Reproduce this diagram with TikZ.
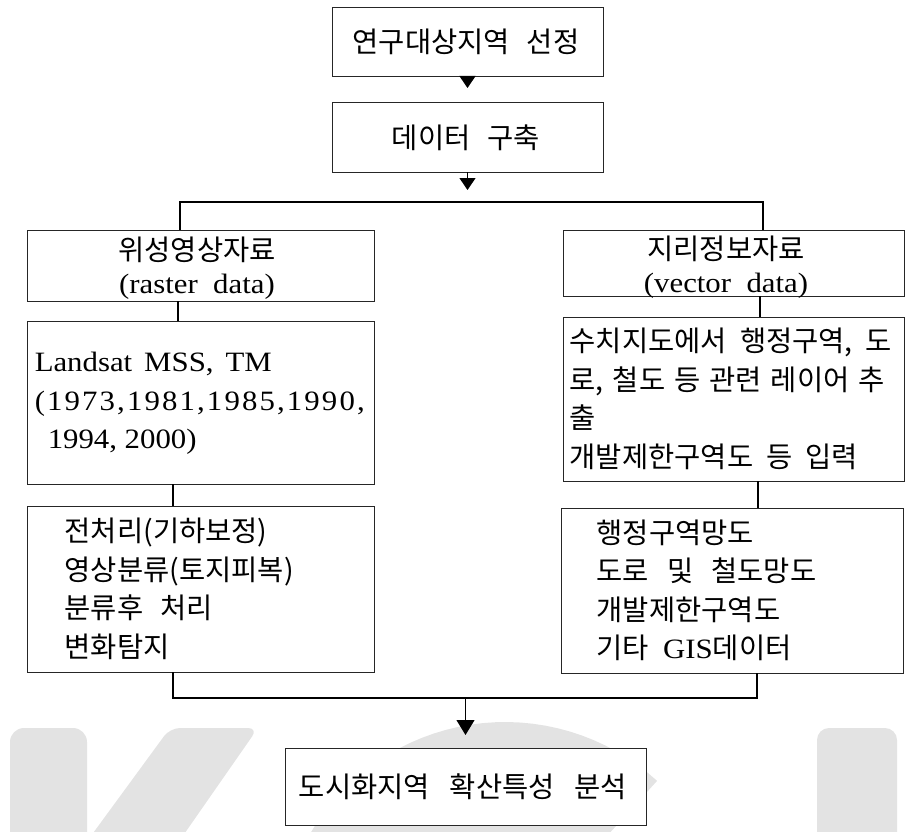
\documentclass[tikz,border=0pt]{standalone}
\usepackage{fontspec}
\newfontfamily\kr[WordSpace=2.6]{Noto Sans CJK KR}
\newfontfamily\lat[FakeStretch=1.1]{Liberation Serif}
\usetikzlibrary{arrows.meta,calc}
\definecolor{wm}{gray}{0.89}
\newcommand\LT[1]{{\lat\fontsize{28}{38.5}\selectfont #1}}
\newcommand\gap[1]{\hspace{#1pt}}
\tikzset{
  box/.style={draw=black!85, line width=0.9pt, fill=white, inner sep=0pt},
  txt/.style={inner sep=0pt, font=\kr\fontsize{28.5}{38.5}\selectfont, align=left},
  txtc/.style={inner sep=0pt, font=\kr\fontsize{28.5}{33}\selectfont, align=center},
  conn/.style={line width=1.1pt, draw=black},
  arr/.style={conn, -{Triangle[width=16pt,length=12pt]}},
  arrbig/.style={conn, -{Triangle[width=18pt,length=15pt]}},
}
\begin{document}
\begin{tikzpicture}[x=1pt,y=-1pt]
\useasboundingbox (0,0) rectangle (905,832);
% watermark
\begin{scope}
\clip (0,0) rectangle (905,832);
\fill[wm, rounded corners=14pt] (10,900) -- (10,728) -- (87,728) -- (87,900) -- cycle;
\fill[wm, rounded corners=10pt] (88,840) -- (170,728) -- (258,728) -- (180,840) -- cycle;
\fill[wm] (505,948) -- plot[domain=47.7:300, samples=80] ({505+226*cos(\x)}, {948-226*sin(\x)}) -- cycle;
\fill[wm, rounded corners=12pt] (817,900) -- (817,728) -- (897,728) -- (897,900) -- cycle;
\end{scope}
% boxes
\node[box, minimum width=271pt, minimum height=69pt] (b1) at (467.5,41.5) {};
\node[txtc] (b1t) at (466,42) {연구대상지역\gap{17}선정};
\node[box, minimum width=271pt, minimum height=70pt] (b2) at (467.5,137) {};
\node[txtc] (b2t) at (466,138) {데이터\gap{17}구축};
\node[box, minimum width=347pt, minimum height=71pt] (lb1) at (200.5,265.5) {};
\node[txtc] (lb1t) at (197,268) {위성영상자료\\\LT{(raster\ \ data)}};
\node[box, minimum width=341pt, minimum height=66pt] (rb1) at (733.5,263) {};
\node[txtc] (rb1t) at (726,267) {지리정보자료\\\LT{(vector\ \ data)}};
\node[box, minimum width=347pt, minimum height=163pt] (lb2) at (200.5,402.5) {};
\node[txt, anchor=west] (lb2t) at ([xshift=8pt,yshift=-1pt]lb2.west)
  {\LT{Landsat\gap{12}MSS,\gap{12}TM}\\
   \LT{\makebox[330pt][s]{(\hfil1\hfil9\hfil7\hfil3\hfil,\hfil1\hfil9\hfil8\hfil1\hfil,\hfil1\hfil9\hfil8\hfil5\hfil,\hfil1\hfil9\hfil9\hfil0\hfil,}}\\
   \hspace*{13pt}\LT{1994, 2000)}};
\node[box, minimum width=341pt, minimum height=164pt] (rb2) at (733.5,399) {};
\node[txt, anchor=west] (rb2t) at ([xshift=7pt]rb2.west)
  {수치지도에서\gap{13}행정구역,\gap{13}도\\
   로,\gap{9}철도\gap{9}등\gap{9}관련\gap{9}레이어\gap{9}추\\
   출\\
   개발제한구역도\gap{13}등\gap{13}입력};
\node[box, minimum width=347pt, minimum height=166pt] (lb3) at (200.5,589) {};
\node[txt, anchor=west] (lb3t) at ([xshift=38pt]lb3.west)
  {전처리(기하보정)\\영상분류(토지피복)\\분류후\gap{17}처리\\변화탐지};
\node[box, minimum width=342pt, minimum height=165pt] (rb3) at (732,590.5) {};
\node[txt, anchor=west] (rb3t) at ([xshift=36pt]rb3.west)
  {행정구역망도\\도로\gap{18}및\gap{18}철도망도\\개발제한구역도\\기타\gap{14}\LT{GIS}데이터};
\node[box, minimum width=361pt, minimum height=77pt] (bot) at (465.5,786.5) {};
\node[txtc] (bott) at (463,787) {도시화지역\gap{20}확산특성\gap{20}분석};
% connectors
\coordinate (t1) at (467.5,88);
\draw[arr] (b1.south) -- (t1);
\coordinate (t2) at (467.5,190);
\draw[arr] (b2.south) -- (t2);
\coordinate (busL) at (180,202);
\coordinate (busR) at (763,202);
\draw[conn] (lb1.north -| busL) -- (busL) -- (busR) -- (rb1.north -| busR);
\draw[conn] ([xshift=-22.5pt]lb1.south) -- ([xshift=-22.5pt]lb2.north);
\draw[conn] ([xshift=-27.5pt]lb2.south) -- ([xshift=-27.5pt]lb3.north);
\draw[conn] ([xshift=26.5pt]rb1.south) -- ([xshift=26.5pt]rb2.north);
\draw[conn] ([xshift=24.5pt]rb2.south) -- ([xshift=24.5pt]rb2.south |- rb3.north);
\coordinate (bbL) at (173,698);
\coordinate (bbR) at (757,698);
\draw[conn] (lb3.south -| bbL) -- (bbL) -- (bbR) -- (rb3.south -| bbR);
\coordinate (bmid) at (465.5,698);
\coordinate (t3) at (465.5,735);
\draw[arrbig] (bmid) -- (t3);
\end{tikzpicture}
\end{document}
